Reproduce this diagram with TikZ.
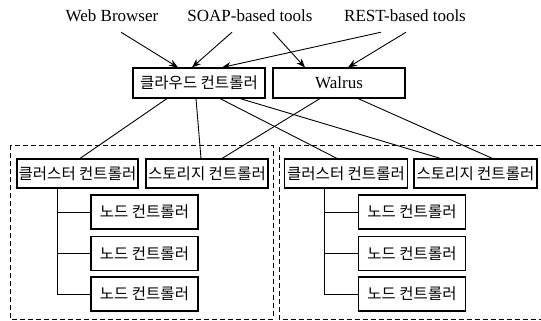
\documentclass[tikz,border=0pt]{standalone}
\usepackage{fontspec}
\setmainfont{Liberation Serif}
\newfontfamily\kr{Noto Sans CJK KR}
\usetikzlibrary{arrows.meta}

\tikzset{
    box/.style={draw, line width=1.1pt, inner sep=0pt, font=\kr\fontsize{15.5}{18}\selectfont},
    tool/.style={minimum height=32pt, inner sep=0pt, font=\fontsize{17}{20}\selectfont},
    link/.style={line width=0.9pt},
    arr/.style={line width=0.9pt, -{Stealth[length=9pt,width=7pt]}},
    zone/.style={dash pattern=on 5pt off 3pt, line width=1pt}
}

\begin{document}
\begin{tikzpicture}[x=1pt, y=-1pt]
                        \useasboundingbox (0,0) rectangle (541,321);
                        \node (wb) at (112, 16) [tool] {Web Browser};
                        \node (soap) at (250, 16) [tool] {SOAP-based tools};
                        \node (rest) at (405, 16) [tool] {REST-based tools};

                        \node (cloud) at (199, 83) [box, minimum width=132pt, minimum height=30pt] {클라우드 컨트롤러};
                        \node (walrus) at (339, 83) [box, minimum width=132pt, minimum height=30pt, font=\fontsize{17}{20}\selectfont] {Walrus};

                        \node (cl1) at (77.5, 173.5) [box, minimum width=121pt, minimum height=29pt] {클러스터 컨트롤러};
                        \node (st1) at (207, 173.5) [box, minimum width=122pt, minimum height=29pt] {스토리지 컨트롤러};
                        \node (cl2) at (346, 173.5) [box, minimum width=123pt, minimum height=29pt] {클러스터 컨트롤러};
                        \node (st2) at (475.5, 173.5) [box, minimum width=123pt, minimum height=29pt] {스토리지 컨트롤러};

                        \node (n11) at (144.5, 212) [box, minimum width=107pt, minimum height=34pt] {노드 컨트롤러};
                        \node (n12) at (144.5, 253.5) [box, minimum width=107pt, minimum height=34pt] {노드 컨트롤러};
                        \node (n13) at (144.5, 294) [box, minimum width=107pt, minimum height=34pt] {노드 컨트롤러};
                        \node (n21) at (412, 212) [box, minimum width=107pt, minimum height=34pt] {노드 컨트롤러};
                        \node (n22) at (412, 253.5) [box, minimum width=107pt, minimum height=34pt] {노드 컨트롤러};
                        \node (n23) at (412, 294) [box, minimum width=107pt, minimum height=34pt] {노드 컨트롤러};

                        \draw[arr] ([xshift=9pt]wb.south) -- ([xshift=-21pt]cloud.north);
                        \draw[arr] ([xshift=-18pt]soap.south) -- ([xshift=-7pt]cloud.north);
                        \draw[arr] ([xshift=-24pt]rest.south) -- ([xshift=23pt]cloud.north);
                        \draw[arr] ([xshift=23pt]soap.south) -- ([xshift=-34pt]walrus.north);
                        \draw[arr] ([xshift=1pt]rest.south) -- ([xshift=9pt]walrus.north);

                        \draw[link] ([xshift=-32pt]cloud.south) -- ([xshift=2.5pt]cl1.north);
                        \draw[link] ([xshift=-3pt]cloud.south) -- ([xshift=-6pt]st1.north);
                        \draw[link] ([xshift=21pt]cloud.south) -- ([xshift=-9pt]cl2.north);
                        \draw[link] ([xshift=41pt]cloud.south) -- ([xshift=-35pt]st2.north);
                        \draw[link] ([xshift=-19pt]walrus.south) -- ([xshift=15pt]st1.north);
                        \draw[link] ([xshift=19pt]walrus.south) -- ([xshift=17pt]st2.north);

                        \draw[link] ([xshift=-20.5pt]cl1.south) |- (n13.west);
                        \draw[link] ([xshift=-20.5pt]cl1.south) |- (n11.west);
                        \draw[link] ([xshift=-20.5pt]cl1.south) |- (n12.west);
                        \draw[link] ([xshift=-22pt]cl2.south) |- (n23.west);
                        \draw[link] ([xshift=-22pt]cl2.south) |- (n21.west);
                        \draw[link] ([xshift=-22pt]cl2.south) |- (n22.west);

                        \draw[zone] (10, 145) rectangle (273, 319);
                        \draw[zone] (541, 145) -- (279, 145) -- (279, 319) -- (541, 319);
                    \end{tikzpicture}
\end{document}
